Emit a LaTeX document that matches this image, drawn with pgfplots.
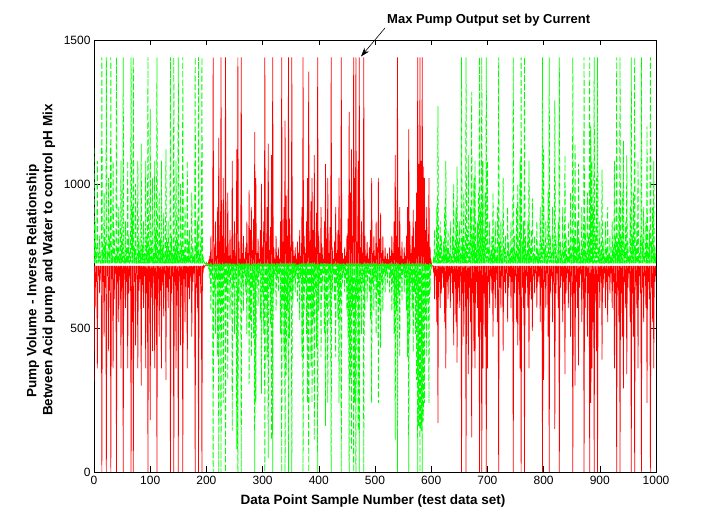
\documentclass[border=0pt]{standalone}
\usepackage{fontspec}
\setmainfont{Liberation Sans}
\usepackage{pgfplots}
\usepackage{pgfplotstable}
\pgfplotsset{compat=1.18}
\usetikzlibrary{arrows.meta}
\definecolor{mred}{rgb}{1,0,0}
\definecolor{mgreen}{rgb}{0,1,0}
\pgfplotstableread{
x r g
0 315 1125
1 716 724
2 570 870
3 716 724
4 660 780
5 716 724
6 360 1080
7 716 724
8 680 760
9 716 724
10 620 820
11 716 724
12 690 750
13 716 724
14 0 1440
15 716 724
16 660 780
17 716 724
18 470 970
19 716 724
20 640 800
21 716 724
22 0 1440
23 716 724
24 680 760
25 716 724
26 420 1020
27 716 724
28 630 810
29 716 724
30 0 1440
31 716 724
32 670 770
33 716 724
34 360 1080
35 716 724
36 600 840
37 716 724
38 690 750
39 716 724
40 0 1440
41 716 724
42 660 780
43 716 724
44 520 920
45 716 724
46 680 760
47 716 724
48 360 1080
49 716 724
50 640 800
51 716 724
52 0 1440
53 716 724
54 690 750
55 716 724
56 570 870
57 716 724
58 660 780
59 716 724
60 360 1080
61 716 724
62 620 820
63 716 724
64 680 760
65 716 724
66 0 1440
67 716 724
68 520 920
69 716 724
70 0 1440
71 716 724
72 660 780
73 716 724
74 440 1000
75 716 724
76 690 750
77 716 724
78 360 1080
79 716 724
80 630 810
81 716 724
82 670 770
83 716 724
84 300 1140
85 716 724
86 650 790
87 716 724
88 570 870
89 716 724
90 680 760
91 716 724
92 360 1080
93 716 724
94 620 820
95 716 724
96 0 1440
97 716 724
98 660 780
99 716 724
100 180 1260
101 716 724
102 640 800
103 716 724
104 420 1020
105 716 724
106 680 760
107 716 724
108 360 1080
109 716 724
110 600 840
111 716 724
112 0 1440
113 716 724
114 670 770
115 716 724
116 470 970
117 716 724
118 630 810
119 716 724
120 360 1080
121 716 724
122 660 780
123 716 724
124 540 900
125 716 724
126 690 750
127 716 724
128 320 1120
129 716 724
130 640 800
131 716 724
132 570 870
133 716 724
134 670 770
135 716 724
136 0 1440
137 716 724
138 620 820
139 716 724
140 680 760
141 716 724
142 0 1440
143 716 724
144 660 780
145 716 724
146 360 1080
147 716 724
148 630 810
149 716 724
150 0 1440
151 716 724
152 680 760
153 716 724
154 440 1000
155 716 724
156 650 790
157 716 724
158 0 1440
159 716 724
160 670 770
161 716 724
162 520 920
163 716 724
164 690 750
165 716 724
166 360 1080
167 716 724
168 640 800
169 716 724
170 600 840
171 716 724
172 680 760
173 716 724
174 470 970
175 716 724
176 660 780
177 716 724
178 690 750
179 716 724
180 0 1440
181 716 724
182 640 800
183 716 724
184 570 870
185 716 724
186 0 1440
187 716 724
188 680 760
189 716 724
190 620 820
191 716 724
192 0 1440
193 716 724
194 690 750
195 716 724
196 710 730
197 716 724
198 716 724
199 716 724
200 725 712
201 716 724
202 716 724
203 716 724
204 730 704
205 716 724
206 750 672
207 716 724
208 820 560
209 716 724
210 740 688
211 716 724
212 1440 0
213 716 724
214 780 624
215 716 724
216 870 480
217 716 724
218 750 672
219 716 724
220 920 400
221 716 724
222 1160 0
223 716 724
224 800 592
225 716 724
226 1440 0
227 716 724
228 820 560
229 716 724
230 1020 240
231 716 724
232 760 656
233 716 724
234 1440 0
235 716 724
236 780 624
237 716 724
238 970 320
239 716 724
240 750 672
241 716 724
242 840 528
243 716 724
244 740 688
245 716 724
246 1080 144
247 716 724
248 770 640
249 716 724
250 870 480
251 716 724
252 750 672
253 716 724
254 1120 80
255 716 724
256 1440 0
257 716 724
258 800 592
259 716 724
260 740 688
261 716 724
262 1440 0
263 716 724
264 760 656
265 716 724
266 820 560
267 716 724
268 740 688
269 716 724
270 780 624
271 716 724
272 870 480
273 716 724
274 760 656
275 716 724
276 980 304
277 716 724
278 840 528
279 716 724
280 920 400
281 716 724
282 770 640
283 716 724
284 880 464
285 716 724
286 1180 0
287 716 724
288 1020 240
289 716 724
290 760 656
291 716 724
292 810 576
293 716 724
294 740 688
295 716 724
296 840 528
297 716 724
298 1000 272
299 716 724
300 780 624
301 716 724
302 870 480
303 716 724
304 1440 0
305 716 724
306 800 592
307 716 724
308 920 400
309 716 724
310 1140 48
311 716 724
312 770 640
313 716 724
314 850 512
315 716 724
316 1100 112
317 716 724
318 1440 0
319 716 724
320 780 624
321 716 724
322 740 688
323 716 724
324 820 560
325 716 724
326 750 672
327 716 724
328 780 624
329 716 724
330 740 688
331 716 724
332 870 480
333 716 724
334 1440 0
335 716 724
336 800 592
337 716 724
338 920 400
339 716 724
340 1220 0
341 716 724
342 960 336
343 716 724
344 820 560
345 716 724
346 1440 0
347 716 724
348 880 464
349 716 724
350 780 624
351 716 724
352 1440 0
353 716 724
354 800 592
355 716 724
356 750 672
357 716 724
358 780 624
359 716 724
360 740 688
361 716 724
362 800 592
363 716 724
364 760 656
365 716 724
366 840 528
367 716 724
368 750 672
369 716 724
370 920 400
371 716 724
372 1440 0
373 716 724
374 820 560
375 716 724
376 760 656
377 716 724
378 870 480
379 716 724
380 1020 240
381 716 724
382 1390 0
383 716 724
384 800 592
385 716 724
386 940 368
387 716 724
388 1020 240
389 716 724
390 840 528
391 716 724
392 1100 112
393 716 724
394 780 624
395 716 724
396 900 432
397 716 724
398 1440 0
399 716 724
400 820 560
401 716 724
402 760 656
403 716 724
404 920 400
405 716 724
406 780 624
407 716 724
408 740 688
409 716 724
410 870 480
411 716 724
412 1070 160
413 716 724
414 810 576
415 716 724
416 1020 240
417 716 724
418 760 656
419 716 724
420 850 512
421 716 724
422 1440 0
423 716 724
424 780 624
425 716 724
426 740 688
427 716 724
428 800 592
429 716 724
430 920 400
431 716 724
432 760 656
433 716 724
434 840 528
435 716 724
436 1020 240
437 716 724
438 800 592
439 716 724
440 1440 0
441 716 724
442 760 656
443 716 724
444 740 688
445 716 724
446 780 624
447 716 724
448 750 672
449 716 724
450 820 560
451 716 724
452 880 464
453 716 724
454 1250 0
455 716 724
456 970 320
457 716 724
458 1120 80
459 716 724
460 820 560
461 716 724
462 1440 0
463 716 724
464 1020 240
465 716 724
466 1440 0
467 716 724
468 800 592
469 716 724
470 1080 144
471 716 724
472 1440 0
473 716 724
474 780 624
475 716 724
476 870 480
477 716 724
478 760 656
479 716 724
480 1440 0
481 716 724
482 820 560
483 716 724
484 750 672
485 716 724
486 800 592
487 716 724
488 740 688
489 716 724
490 780 624
491 716 724
492 840 528
493 716 724
494 1020 240
495 716 724
496 760 656
497 716 724
498 820 560
499 716 724
500 750 672
501 716 724
502 870 480
503 716 724
504 780 624
505 716 724
506 1020 240
507 716 724
508 810 576
509 716 724
510 900 432
511 716 724
512 760 656
513 716 724
514 820 560
515 716 724
516 740 688
517 716 724
518 780 624
519 716 724
520 740 688
521 716 724
522 760 656
523 716 724
524 730 704
525 716 724
526 780 624
527 716 724
528 750 672
529 716 724
530 820 560
531 716 724
532 760 656
533 716 724
534 870 480
535 716 724
536 1100 112
537 716 724
538 820 560
539 716 724
540 1440 0
541 716 724
542 780 624
543 716 724
544 920 400
545 716 724
546 750 672
547 716 724
548 800 592
549 716 724
550 740 688
551 716 724
552 780 624
553 716 724
554 750 672
555 716 724
556 820 560
557 716 724
558 920 400
559 716 724
560 1190 0
561 716 724
562 870 480
563 716 724
564 760 656
565 716 724
566 820 560
567 716 724
568 910 416
569 716 724
570 780 624
571 716 724
572 870 480
573 716 724
574 970 320
575 716 724
576 1440 0
577 716 724
578 1070 160
579 716 724
580 1440 0
581 716 724
582 1080 144
583 716 724
584 1440 0
585 716 724
586 1060 176
587 716 724
588 1020 240
589 716 724
590 840 528
591 716 724
592 920 400
593 716 724
594 800 592
595 716 724
596 1020 240
597 716 724
598 780 624
599 716 724
600 730 704
601 716 724
602 716 724
603 716 724
604 700 740
605 716 724
606 600 840
607 716 724
608 680 760
609 716 724
610 520 920
611 716 724
612 170 1270
613 716 724
614 660 780
615 716 724
616 570 870
617 716 724
618 620 820
619 716 724
620 690 750
621 716 724
622 640 800
623 716 724
624 520 920
625 716 724
626 360 1080
627 716 724
628 660 780
629 716 724
630 600 840
631 716 724
632 680 760
633 716 724
634 570 870
635 716 724
636 690 750
637 716 724
638 620 820
639 716 724
640 440 1000
641 716 724
642 660 780
643 716 724
644 520 920
645 716 724
646 380 1060
647 716 724
648 640 800
649 716 724
650 570 870
651 716 724
652 680 760
653 716 724
654 0 1440
655 716 724
656 620 820
657 716 724
658 470 970
659 716 724
660 660 780
661 716 724
662 0 1440
663 716 724
664 600 840
665 716 724
666 340 1100
667 716 724
668 640 800
669 716 724
670 520 920
671 716 724
672 120 1320
673 716 724
674 620 820
675 716 724
676 420 1020
677 716 724
678 360 1080
679 716 724
680 660 780
681 716 724
682 570 870
683 716 724
684 470 970
685 716 724
686 0 1440
687 716 724
688 520 920
689 716 724
690 0 1440
691 716 724
692 360 1080
693 716 724
694 620 820
695 716 724
696 470 970
697 716 724
698 0 1440
699 716 724
700 360 1080
701 716 724
702 660 780
703 716 724
704 570 870
705 716 724
706 680 760
707 716 724
708 620 820
709 716 724
710 470 970
711 716 724
712 660 780
713 716 724
714 570 870
715 716 724
716 690 750
717 716 724
718 520 920
719 716 724
720 0 1440
721 716 724
722 640 800
723 716 724
724 570 870
725 716 724
726 680 760
727 716 724
728 420 1020
729 716 724
730 660 780
731 716 724
732 620 820
733 716 724
734 690 750
735 716 724
736 520 920
737 716 724
738 640 800
739 716 724
740 680 760
741 716 724
742 570 870
743 716 724
744 660 780
745 716 724
746 0 1440
747 716 724
748 620 820
749 716 724
750 680 760
751 716 724
752 520 920
753 716 724
754 440 1000
755 716 724
756 660 780
757 716 724
758 360 1080
759 716 724
760 0 1440
761 716 724
762 640 800
763 716 724
764 570 870
765 716 724
766 0 1440
767 716 724
768 620 820
769 716 724
770 680 760
771 716 724
772 570 870
773 716 724
774 360 1080
775 716 724
776 660 780
777 716 724
778 600 840
779 716 724
780 490 950
781 716 724
782 680 760
783 716 724
784 620 820
785 716 724
786 690 750
787 716 724
788 570 870
789 716 724
790 660 780
791 716 724
792 680 760
793 716 724
794 520 920
795 716 724
796 640 800
797 716 724
798 0 1440
799 716 724
800 320 1120
801 716 724
802 660 780
803 716 724
804 570 870
805 716 724
806 690 750
807 716 724
808 470 970
809 716 724
810 0 1440
811 716 724
812 620 820
813 716 724
814 680 760
815 716 724
816 520 920
817 716 724
818 660 780
819 716 724
820 150 1290
821 716 724
822 620 820
823 716 724
824 690 750
825 716 724
826 570 870
827 716 724
828 0 1440
829 716 724
830 640 800
831 716 724
832 680 760
833 716 724
834 520 920
835 716 724
836 660 780
837 716 724
838 340 1100
839 716 724
840 620 820
841 716 724
842 690 750
843 716 724
844 570 870
845 716 724
846 660 780
847 716 724
848 470 970
849 716 724
850 680 760
851 716 724
852 0 1440
853 716 724
854 620 820
855 716 724
856 300 1140
857 716 724
858 660 780
859 716 724
860 570 870
861 716 724
862 370 1070
863 716 724
864 640 800
865 716 724
866 690 750
867 716 724
868 520 920
869 716 724
870 660 780
871 716 724
872 0 1440
873 716 724
874 570 870
875 716 724
876 680 760
877 716 724
878 470 970
879 716 724
880 620 820
881 716 724
882 0 1440
883 716 724
884 240 1200
885 716 724
886 360 1080
887 716 724
888 520 920
889 716 724
890 0 1440
891 716 724
892 620 820
893 716 724
894 420 1020
895 716 724
896 0 1440
897 716 724
898 660 780
899 716 724
900 570 870
901 716 724
902 680 760
903 716 724
904 390 1050
905 716 724
906 640 800
907 716 724
908 690 750
909 716 724
910 570 870
911 716 724
912 660 780
913 716 724
914 520 920
915 716 724
916 680 760
917 716 724
918 620 820
919 716 724
920 690 750
921 716 724
922 570 870
923 716 724
924 660 780
925 716 724
926 360 1080
927 716 724
928 620 820
929 716 724
930 0 1440
931 716 724
932 640 800
933 716 724
934 520 920
935 716 724
936 0 1440
937 716 724
938 620 820
939 716 724
940 470 970
941 716 724
942 290 1150
943 716 724
944 660 780
945 716 724
946 570 870
947 716 724
948 340 1100
949 716 724
950 640 800
951 716 724
952 690 750
953 716 724
954 520 920
955 716 724
956 0 1440
957 716 724
958 620 820
959 716 724
960 470 970
961 716 724
962 0 1440
963 716 724
964 660 780
965 716 724
966 570 870
967 716 724
968 360 1080
969 716 724
970 680 760
971 716 724
972 620 820
973 716 724
974 0 1440
975 716 724
976 640 800
977 716 724
978 520 920
979 716 724
980 680 760
981 716 724
982 570 870
983 716 724
984 240 1200
985 716 724
986 660 780
987 716 724
988 600 840
989 716 724
990 0 1440
991 716 724
992 640 800
993 716 724
994 520 920
995 716 724
996 360 1080
997 716 724
998 660 780
999 716 724
1000 680 760
}\pumpdata
\begin{document}
\begin{tikzpicture}[x=1pt,y=1pt]
\path[use as bounding box] (0,0) rectangle (725,532);
\begin{axis}[
  at={(94pt,60pt)}, anchor=south west,
  scale only axis, width=562pt, height=432pt,
  xmin=0, xmax=1000, ymin=0, ymax=1500,
  xtick={0,100,...,1000}, ytick={0,500,1000,1500},
  tick align=inside, xtick pos=both, ytick pos=both,
  major tick length=5.5pt,
  tick style={black, line width=0.6pt},
  axis line style={black, line width=0.8pt},
  /pgf/number format/assume math mode=true,
  /pgf/number format/1000 sep={},
  ticklabel style={font=\fontsize{12}{14}\selectfont},
  xticklabel style={yshift=-1pt},
  clip=true,
]
\addplot[mred, line width=0.7pt] table[x=x, y=r] {\pumpdata};
\addplot[mgreen, line width=0.75pt, dash pattern=on 6pt off 2.5pt] table[x=x, y=g] {\pumpdata};
\end{axis}
\node[font=\fontsize{13.5}{16}\bfseries\selectfont] at (373,31.3) {Data Point Sample Number (test data set)};
\node[rotate=90, font=\fontsize{13.5}{16}\bfseries\selectfont] at (33,251) {Pump Volume - Inverse Relationship};
\node[rotate=90, font=\fontsize{13.5}{16}\bfseries\selectfont] at (49,272) {Between Acid pump and Water to control pH Mix};
\node[anchor=west, font=\fontsize{13}{15}\bfseries\selectfont, inner sep=0pt] at (387,512) {Max Pump Output set by Current};
\draw[black, line width=0.6pt, -{Stealth[length=9pt,width=6pt]}] (385,504) -- (361,475.5);
\end{tikzpicture}
\end{document}
